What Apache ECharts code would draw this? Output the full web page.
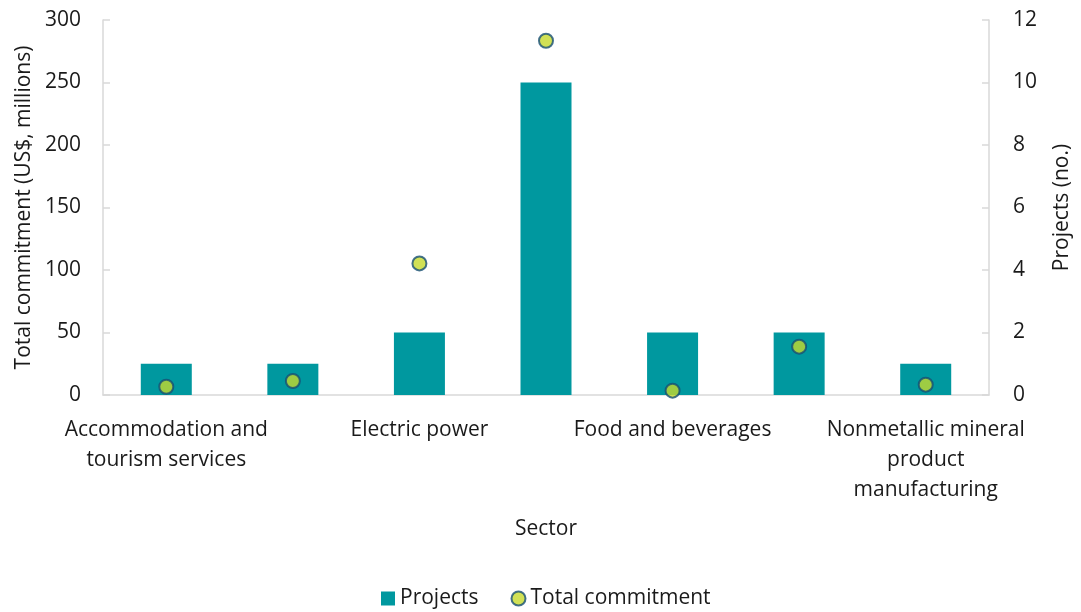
<!DOCTYPE html>
<html>
<head>
<meta charset="utf-8">
<style>
  html, body { margin: 0; padding: 0; background: #ffffff; }
  #chart { width: 1081px; height: 612px; }
</style>
<script src="https://cdn.jsdelivr.net/npm/echarts@6/dist/echarts.min.js"></script>
</head>
<body>
<div id="chart"></div>
<script>
// Sectors (every other label is shown on the axis)
const categories = [
  'Accommodation and\ntourism services',
  'Chemicals',
  'Electric power',
  'Financial services',
  'Food and beverages',
  'Machinery',
  'Nonmetallic mineral\nproduct\nmanufacturing'
];
// Number of projects per sector (right axis)
const projects = [1, 1, 2, 10, 2, 2, 1];
// Total commitment per sector, US$ millions (left axis)
const totalCommitment = [6.6, 11.2, 105.3, 283.4, 3.5, 38.7, 8.3];

const FONT = 'Open Sans';
const FS = 21;
const TEXT = '#1a1a1a';
const AXIS = '#d9d9d9';

const chart = echarts.init(document.getElementById('chart'), null, { renderer: 'canvas' });

chart.setOption({
  animation: false,
  textStyle: { fontFamily: FONT, color: TEXT },
  grid: { left: 103, right: 88, top: 20, bottom: 217, containLabel: false },
  legend: {
    bottom: -2,
    left: 376,
    itemGap: 32,
    itemWidth: 14,
    itemHeight: 14,
    textStyle: { fontFamily: FONT, fontSize: FS, color: TEXT },
    data: [
      { name: 'Projects', icon: 'rect' },
      { name: 'Total commitment', icon: 'circle' }
    ]
  },
  xAxis: {
    type: 'category',
    data: categories,
    name: 'Sector',
    nameLocation: 'middle',
    nameGap: 124,
    nameTextStyle: { fontFamily: FONT, fontSize: FS, color: TEXT },
    axisLine: { show: true, lineStyle: { color: AXIS, width: 1.5 } },
    axisTick: { show: false },
    axisLabel: {
      interval: 1,
      margin: 20,
      fontFamily: FONT,
      fontSize: FS,
      lineHeight: 30,
      color: TEXT,
      align: 'center'
    }
  },
  yAxis: [
    {
      type: 'value',
      min: 0,
      max: 300,
      interval: 50,
      position: 'left',
      name: 'Total commitment (US$, millions)',
      nameLocation: 'middle',
      nameRotate: 90,
      nameGap: 65,
      nameTextStyle: { fontFamily: FONT, fontSize: FS, color: TEXT },
      axisLine: { show: true, lineStyle: { color: AXIS, width: 1.5 } },
      axisTick: { show: true, inside: true, length: 7, lineStyle: { color: AXIS, width: 1.5 } },
      axisLabel: { margin: 22, fontFamily: FONT, fontSize: FS, color: TEXT },
      splitLine: { show: false }
    },
    {
      type: 'value',
      min: 0,
      max: 12,
      interval: 2,
      position: 'right',
      name: 'Projects (no.)',
      nameLocation: 'middle',
      nameRotate: 90,
      nameGap: 63,
      nameTextStyle: { fontFamily: FONT, fontSize: FS, color: TEXT },
      axisLine: { show: true, lineStyle: { color: AXIS, width: 1.5 } },
      axisTick: { show: true, inside: true, length: 7, lineStyle: { color: AXIS, width: 1.5 } },
      axisLabel: { margin: 24, fontFamily: FONT, fontSize: FS, color: TEXT },
      splitLine: { show: false }
    }
  ],
  series: [
    {
      name: 'Projects',
      type: 'bar',
      yAxisIndex: 1,
      data: projects,
      barWidth: 51,
      itemStyle: { color: '#00989f' }
    },
    {
      name: 'Total commitment',
      type: 'scatter',
      yAxisIndex: 0,
      data: totalCommitment,
      symbol: 'circle',
      symbolSize: 14,
      z: 5,
      itemStyle: { color: '#c6d92c', borderColor: '#164f74', borderWidth: 2 }
    }
  ]
});
</script>
</body>
</html>
